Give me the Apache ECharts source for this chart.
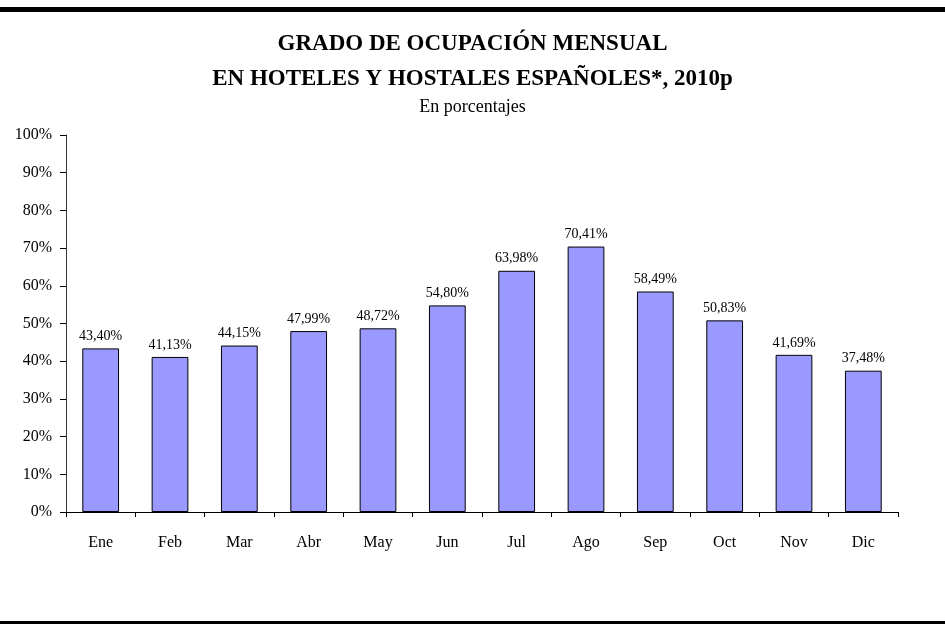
<!DOCTYPE html>
<html>
<head>
<meta charset="utf-8">
<title>Grado de ocupación mensual</title>
<script src="https://cdn.jsdelivr.net/npm/echarts@6/dist/echarts.min.js"></script>
<style>
  html, body { margin: 0; padding: 0; background: #fff; }
  #chart { width: 945px; height: 624px; }
</style>
</head>
<body>
<div id="chart"></div>
<script>
// meses y valores (% de ocupación, 2010p)
var months = ['Ene', 'Feb', 'Mar', 'Abr', 'May', 'Jun', 'Jul', 'Ago', 'Sep', 'Oct', 'Nov', 'Dic'];
var occupancy = [43.40, 41.13, 44.15, 47.99, 48.72, 54.80, 63.98, 70.41, 58.49, 50.83, 41.69, 37.48];
var yTicks = [0, 10, 20, 30, 40, 50, 60, 70, 80, 90, 100];

var serif = '"Liberation Serif", "Times New Roman", serif';

var chart = echarts.init(document.getElementById('chart'));

chart.setOption({
    backgroundColor: '#fff',
    animation: false,
    title: [{
        text: 'GRADO DE OCUPACIÓN MENSUAL\nEN HOTELES Y HOSTALES ESPAÑOLES*, 2010p',
        left: 'center',
        top: 27,
        padding: 0,
        textStyle: {
            fontFamily: serif,
            fontSize: 23,
            fontWeight: 'bold',
            color: '#000',
            lineHeight: 35
        }
    }, {
        text: 'En porcentajes',
        left: 'center',
        top: 97,
        padding: 0,
        textStyle: {
            fontFamily: serif,
            fontSize: 18,
            fontWeight: 'normal',
            color: '#000',
            lineHeight: 20
        }
    }],
    graphic: [
        {type: 'rect', left: 0, top: 7, shape: {width: 945, height: 5}, style: {fill: '#000'}},
        {type: 'rect', left: 0, top: 621, shape: {width: 945, height: 3}, style: {fill: '#000'}}
    ],
    grid: {left: 66, right: 47, top: 135, bottom: 112},
    xAxis: {
        type: 'category',
        data: months,
        boundaryGap: true,
        axisLine: {lineStyle: {color: '#000', width: 1}},
        axisTick: {show: true, alignWithLabel: false, length: 5, lineStyle: {color: '#000'}},
        axisLabel: {fontFamily: serif, fontSize: 16, color: '#000', margin: 23}
    },
    yAxis: {
        type: 'value',
        min: yTicks[0],
        max: yTicks[yTicks.length - 1],
        interval: 10,
        axisLine: {show: true, lineStyle: {color: '#333', width: 1}},
        axisTick: {show: true, length: 6, lineStyle: {color: '#000'}},
        splitLine: {show: false},
        axisLabel: {
            fontFamily: serif, fontSize: 16, color: '#000', margin: 14,
            formatter: function (v) { return v + '%'; }
        }
    },
    series: [{
        type: 'bar',
        data: occupancy,
        barWidth: '53%',
        itemStyle: {color: '#9999FF', borderColor: '#000', borderWidth: 1},
        label: {
            show: true,
            position: 'top',
            distance: 5,
            fontFamily: serif,
            fontSize: 14,
            color: '#000',
            formatter: function (p) { return p.value.toFixed(2).replace('.', ',') + '%'; }
        }
    }]
});
</script>
</body>
</html>
